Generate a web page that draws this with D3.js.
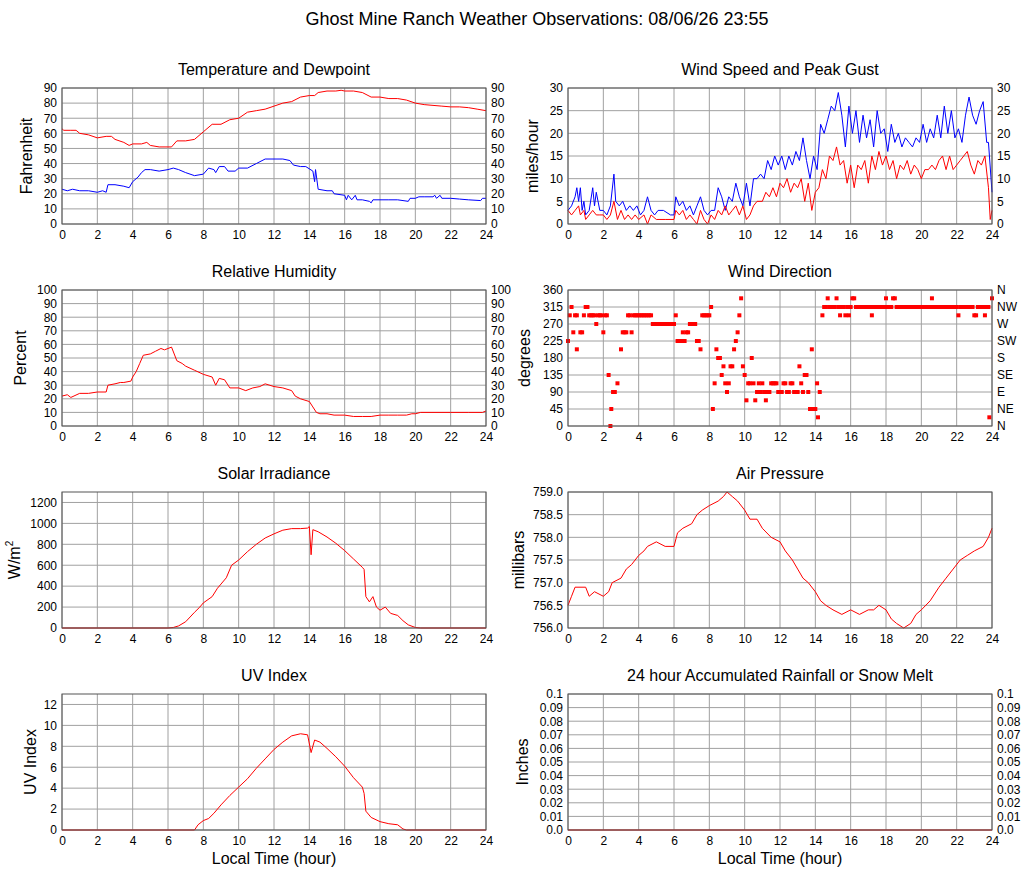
<!DOCTYPE html>
<html>
<head>
<meta charset="utf-8">
<script src="https://cdn.jsdelivr.net/npm/d3@7"></script>
<style>
  body { margin: 0; background: #fff; }
  text { font-family: "Liberation Sans", Arial, sans-serif; fill: #000; }
</style>
</head>
<body>
<svg id="chart" width="1027" height="878"></svg>
<script>
// hour ticks shared by every panel
const hourTicks = d3.range(0, 25, 2);

// Temperature and dewpoint, [hour, F]
const temperature = [[0,63],[0.1,62],[0.5,62],[0.8,62],[1,60],[1.5,59],[2,57],[2.5,58],[2.8,58],[3,56],[3.5,54],[3.8,52],[4,53],[4.5,53],[4.8,54],[5,52],[5.5,51],[6,51],[6.2,51],[6.5,55],[7,55],[7.5,56],[8,61],[8.5,66],[9,66],[9.5,69],[10,70],[10.5,74],[11,75],[11.5,76],[12,78],[12.5,80],[13,81],[13.5,84],[14,85],[14.3,85],[14.5,87],[15,88],[15.5,88],[15.8,88.5],[16,88],[16.5,88],[17,87],[17.5,84],[18,84],[18.5,83],[19,83],[19.5,82],[20,80],[20.5,79],[21,78.5],[21.5,78],[22,77.5],[22.5,77.5],[23,77],[23.5,76],[24,75]];
const dewpoint = [[0,23],[0.3,22],[0.6,23],[1,22],[1.5,22],[2,21],[2.3,22],[2.5,21],[2.6,26],[3,26],[3.5,25],[3.8,24],[4,28],[4.3,31],[4.5,34],[4.7,36],[5,36],[5.5,35],[6,36],[6.3,37],[6.6,36],[7,34],[7.5,32],[8,33],[8.3,37],[8.6,36],[8.7,34],[8.9,38],[9.2,38],[9.4,35],[9.8,35],[10,37],[10.5,37],[11,40],[11.5,43],[12,43],[12.5,43],[12.9,42],[13.1,39],[13.5,38],[13.8,38],[14.2,35],[14.3,28],[14.35,36],[14.5,23],[15,22],[15.3,22],[15.4,20],[16,19],[16.1,16],[16.2,19],[16.4,16],[16.6,19],[16.7,16],[17,16],[17.4,15],[17.5,14],[17.6,16],[18,16],[18.5,16],[19,16],[19.6,15],[19.7,17],[20,17],[20.2,18],[20.5,18],[21,18],[21.1,19],[21.2,17],[21.4,19],[21.5,17],[22,17],[22.5,16.5],[23,16],[23.7,15.5],[23.8,17],[24,17]];

// Relative humidity, [hour, %]
const humidity = [[0,22],[0.3,23],[0.5,21],[1,24],[1.5,24],[2,25],[2.5,25],[2.6,30],[3,31],[3.3,32],[3.5,32],[3.9,33],[4,36],[4.2,40],[4.4,46],[4.6,52],[5,53],[5.3,55],[5.6,57],[5.8,56],[6,57],[6.2,58],[6.5,48],[6.8,46],[7,44],[7.5,41],[8,38],[8.5,36],[8.7,30],[8.9,35],[9.2,34],[9.5,28],[10,28],[10.4,26],[10.8,28],[11.2,29],[11.5,31],[12,29],[12.5,28],[13,26],[13.2,22],[13.5,20],[14,18],[14.2,14],[14.4,10],[14.6,9],[15,9],[15.4,8],[16,8],[16.5,7],[17,7],[17.5,7],[18,8],[18.5,8],[19,8],[19.5,8],[19.8,9],[20,9],[20.3,10],[21,10],[22,10],[23,10],[23.8,10],[24,11]];

// Wind speed and peak gust, [hour, mph]
const windSpeed = [[0,3],[0.2,2],[0.4,3],[0.6,4],[0.7,2],[0.9,3],[1,1],[1.2,2],[1.4,3],[1.6,2],[1.8,2],[2,2],[2.2,1],[2.4,2],[2.6,5],[2.8,1],[3,3],[3.2,1],[3.4,2],[3.6,1],[3.8,2],[4,1],[4.3,2],[4.5,0],[4.7,2],[5,1],[5.5,1],[6,1],[6.1,3],[6.3,2],[6.5,3],[6.7,1],[6.9,2],[7.1,1],[7.3,0],[7.5,3],[7.7,1],[7.9,0],[8.1,2],[8.3,1],[8.5,3],[8.7,2],[8.9,4],[9.1,2],[9.3,3],[9.5,4],[9.7,2],[9.9,4],[10.1,1],[10.3,2],[10.5,4],[10.7,5],[11,5],[11.2,7],[11.4,6],[11.6,8],[11.8,6],[12,9],[12.2,8],[12.4,10],[12.6,7],[12.8,9],[13,8],[13.2,10],[13.4,5],[13.6,9],[13.8,3],[14,7],[14.2,8],[14.4,12],[14.6,10],[14.8,15],[15,14],[15.2,17],[15.4,13],[15.6,14],[15.8,9],[16,13],[16.2,8],[16.4,13],[16.6,12],[16.8,14],[17,9],[17.2,15],[17.4,12],[17.6,16],[17.8,13],[18,15],[18.2,12],[18.4,14],[18.6,10],[18.8,13],[19,12],[19.2,14],[19.4,11],[19.6,13],[19.8,12],[20,10],[20.2,12],[20.4,12],[20.6,13],[20.8,12],[21,14],[21.2,15],[21.4,12],[21.6,15],[21.8,12],[22,13],[22.2,14],[22.4,15],[22.6,16],[22.8,13],[23,11],[23.2,14],[23.4,13],[23.6,15],[23.8,8],[23.9,1],[24,3]];
const windGust = [[0,3],[0.2,4],[0.4,6],[0.5,8],[0.6,5],[0.7,8],[0.8,3],[0.9,5],[1,2],[1.2,3],[1.4,8],[1.5,4],[1.6,7],[1.8,3],[2,3],[2.2,2],[2.4,4],[2.6,11],[2.7,5],[2.9,4],[3.1,5],[3.3,3],[3.5,4],[3.7,3],[3.9,4],[4.1,2],[4.3,3],[4.5,6],[4.7,3],[4.9,2],[5.1,3],[5.4,3],[5.8,2],[6,2],[6.1,6],[6.3,4],[6.5,5],[6.7,3],[6.9,4],[7.1,2],[7.3,4],[7.5,6],[7.7,3],[7.9,2],[8.1,3],[8.3,3],[8.5,8],[8.7,6],[8.9,3],[9.1,6],[9.3,5],[9.5,9],[9.7,6],[9.9,4],[10.1,9],[10.3,4],[10.5,10],[10.7,10],[10.9,11],[11.1,10],[11.3,14],[11.5,12],[11.7,15],[11.9,13],[12.1,15],[12.3,12],[12.5,15],[12.7,13],[12.9,16],[13.1,14],[13.3,19],[13.5,14],[13.7,10],[13.9,15],[14.1,12],[14.3,22],[14.5,20],[14.7,23],[14.9,26],[15.1,25],[15.3,29],[15.5,24],[15.7,17],[15.9,26],[16.1,20],[16.3,25],[16.5,18],[16.7,24],[16.9,19],[17.1,23],[17.3,17],[17.5,25],[17.7,20],[17.9,21],[18.1,16],[18.3,22],[18.5,18],[18.7,20],[18.9,17],[19.1,19],[19.3,18],[19.5,17],[19.7,19],[19.9,18],[20.1,22],[20.3,18],[20.5,21],[20.7,19],[20.9,24],[21.1,19],[21.3,26],[21.5,20],[21.7,25],[21.9,19],[22.1,21],[22.3,18],[22.5,24],[22.7,28],[22.9,24],[23.1,22],[23.3,25],[23.5,27],[23.7,18],[23.8,18],[24,7]];

// Wind direction observations, [hour, degrees]
const windDirection = [[0,225],[0.1,293],[0.2,315],[0.3,248],[0.4,293],[0.5,293],[0.5,203],[0.7,248],[0.8,248],[0.9,293],[1,315],[1.1,315],[1.2,293],[1.3,293],[1.4,293],[1.5,293],[1.6,270],[1.7,293],[1.8,293],[1.9,293],[2.0,248],[2.1,293],[2.2,293],[2.3,135],[2.4,0],[2.45,45],[2.55,90],[2.65,90],[2.8,113],[3.0,203],[3.1,248],[3.2,248],[3.3,248],[3.4,293],[3.5,293],[3.6,248],[3.7,293],[3.8,293],[3.9,293],[4.0,293],[4.1,293],[4.2,293],[4.3,293],[4.4,293],[4.5,293],[4.6,293],[4.7,293],[4.8,270],[4.9,270],[5.0,270],[5.1,270],[5.2,270],[5.3,270],[5.4,270],[5.5,270],[5.6,270],[5.7,270],[5.8,270],[5.9,270],[6.0,270],[6.1,293],[6.2,225],[6.3,225],[6.4,225],[6.5,248],[6.6,225],[6.7,248],[6.8,248],[6.9,270],[7.0,270],[7.1,270],[7.2,270],[7.3,225],[7.4,225],[7.5,203],[7.6,293],[7.7,293],[7.8,293],[7.9,293],[8.0,293],[8.1,315],[8.2,45],[8.3,113],[8.4,203],[8.5,180],[8.6,180],[8.7,135],[8.8,158],[8.9,113],[9.0,90],[9.1,113],[9.2,158],[9.3,158],[9.4,203],[9.5,225],[9.6,248],[9.7,293],[9.8,338],[9.9,158],[10.0,135],[10.1,68],[10.2,113],[10.3,113],[10.4,180],[10.5,113],[10.6,68],[10.7,90],[10.8,113],[10.9,90],[11.0,113],[11.1,90],[11.2,68],[11.3,90],[11.4,90],[11.5,113],[11.6,113],[11.7,113],[11.8,113],[11.9,90],[12.0,90],[12.1,90],[12.2,113],[12.3,113],[12.4,90],[12.5,90],[12.6,113],[12.7,113],[12.8,90],[12.9,90],[13.0,90],[13.1,158],[13.2,113],[13.3,90],[13.4,135],[13.5,135],[13.6,90],[13.7,45],[13.8,203],[13.85,45],[13.9,45],[14.0,45],[14.1,113],[14.15,23],[14.25,90],[14.4,293],[14.5,315],[14.6,315],[14.7,338],[14.8,315],[14.9,315],[15.0,315],[15.1,315],[15.2,338],[15.3,315],[15.4,293],[15.5,315],[15.6,315],[15.7,293],[15.8,315],[15.9,293],[16.0,315],[16.1,338],[16.2,338],[16.3,315],[16.4,315],[16.5,315],[16.6,315],[16.7,315],[16.8,315],[16.9,315],[17.0,315],[17.1,315],[17.2,293],[17.3,315],[17.4,315],[17.5,315],[17.6,315],[17.7,315],[17.8,315],[17.9,315],[18.0,338],[18.1,315],[18.2,315],[18.3,315],[18.4,338],[18.5,338],[18.6,315],[18.7,315],[18.8,315],[18.9,315],[19.0,315],[19.1,315],[19.2,315],[19.3,315],[19.4,315],[19.5,315],[19.6,315],[19.7,315],[19.8,315],[19.9,315],[20.0,315],[20.1,315],[20.2,315],[20.3,315],[20.4,315],[20.5,315],[20.6,338],[20.7,315],[20.8,315],[20.9,315],[21.0,315],[21.1,315],[21.2,315],[21.3,315],[21.4,315],[21.5,315],[21.6,315],[21.7,315],[21.8,315],[21.9,315],[22.0,315],[22.1,293],[22.2,315],[22.3,315],[22.4,315],[22.5,315],[22.6,315],[22.7,315],[22.8,315],[22.9,315],[23.0,293],[23.1,293],[23.2,315],[23.3,315],[23.4,315],[23.5,315],[23.6,293],[23.7,315],[23.8,315],[23.85,23],[24,338]];
const directionLabels = ["N", "NE", "E", "SE", "S", "SW", "W", "NW", "N"];

// Solar irradiance, [hour, W/m2]
const solar = [[0,0],[6,0],[6.3,5],[6.6,20],[7,60],[7.5,150],[7.8,200],[8,240],[8.5,300],[8.8,380],[9,420],[9.3,480],[9.6,600],[10,650],[10.5,730],[11,800],[11.5,860],[12,900],[12.5,935],[13,950],[13.5,950],[13.9,955],[14,970],[14.1,700],[14.2,940],[14.5,920],[15,870],[15.5,810],[16,740],[16.5,660],[17,580],[17.1,560],[17.2,300],[17.4,250],[17.6,300],[17.8,200],[18,170],[18.3,200],[18.6,140],[19,120],[19.3,70],[19.6,30],[20,5],[20.3,0],[24,0]];

// Air pressure, [hour, millibars]
const pressure = [[0,756.5],[0.2,756.7],[0.4,756.9],[1,756.9],[1.2,756.7],[1.5,756.8],[2,756.7],[2.3,756.8],[2.5,757.0],[3,757.1],[3.3,757.3],[3.6,757.4],[4,757.6],[4.3,757.7],[4.5,757.8],[5,757.9],[5.5,757.8],[6,757.8],[6.2,758.1],[6.5,758.2],[7,758.3],[7.3,758.5],[7.6,758.6],[8,758.7],[8.5,758.8],[8.8,758.9],[9,759.0],[9.3,758.9],[9.6,758.8],[10,758.6],[10.3,758.4],[10.7,758.4],[11,758.2],[11.5,758.0],[12,757.9],[12.3,757.7],[12.7,757.5],[13,757.3],[13.3,757.1],[13.6,757.0],[14,756.8],[14.3,756.6],[14.6,756.5],[15,756.4],[15.5,756.3],[16,756.4],[16.5,756.3],[17,756.4],[17.3,756.4],[17.6,756.5],[18,756.4],[18.3,756.2],[18.6,756.1],[19,756.0],[19.4,756.1],[19.7,756.3],[20,756.4],[20.5,756.6],[21,756.9],[21.4,757.1],[21.8,757.3],[22.2,757.5],[22.6,757.6],[23,757.7],[23.5,757.8],[23.8,758.0],[24,758.2]];

// UV index, [hour, index]
const uvIndex = [[0,0],[7.5,0],[7.7,0.5],[8,0.9],[8.3,1.1],[8.6,1.6],[9,2.4],[9.5,3.3],[10,4.1],[10.5,4.9],[11,5.9],[11.5,6.8],[12,7.7],[12.5,8.4],[13,9.0],[13.5,9.2],[13.9,9.1],[14.1,7.4],[14.3,8.6],[14.6,8.4],[15,7.8],[15.5,7.0],[16,6.1],[16.5,5.0],[17,4.1],[17.1,3.5],[17.2,1.8],[17.5,1.2],[18,0.8],[18.5,0.6],[19,0.5],[19.3,0.1],[19.5,0],[24,0]];

// Rainfall, [hour, inches]
const rainfall = [[0,0],[24,0]];
const rainTicks = [0, 0.01, 0.02, 0.03, 0.04, 0.05, 0.06, 0.07, 0.08, 0.09, 0.1];
const rainLabel = d => d === 0 ? "0.0" : String(d);

const svg = d3.select("#chart");

svg.append("text")
    .attr("x", 537).attr("y", 25)
    .attr("text-anchor", "middle")
    .attr("font-size", 18)
    .text("Ghost Mine Ranch Weather Observations: 08/06/26 23:55");

const colLeft = [62, 568];
const rowTop = [88, 290, 492, 694];
const plotW = 424, plotH = 136;

function panel(cfg) {
    const x0 = colLeft[cfg.col], y0 = rowTop[cfg.row];
    const g = svg.append("g").attr("transform", `translate(${x0},${y0})`);
    const x = d3.scaleLinear().domain([0, 24]).range([0, plotW]);
    const y = d3.scaleLinear().domain(cfg.domain).range([plotH, 0]);

    g.append("text")
        .attr("x", plotW / 2).attr("y", -13)
        .attr("text-anchor", "middle")
        .attr("font-size", 16)
        .text(cfg.title);

    // grid
    g.selectAll(".vg").data(hourTicks).join("line")
        .attr("x1", d => x(d)).attr("x2", d => x(d))
        .attr("y1", 0).attr("y2", plotH)
        .attr("stroke", "#a0a0a0").attr("stroke-width", 1);
    g.selectAll(".hg").data(cfg.ticks).join("line")
        .attr("x1", 0).attr("x2", plotW)
        .attr("y1", d => y(d)).attr("y2", d => y(d))
        .attr("stroke", "#a0a0a0").attr("stroke-width", 1);

    // axes
    const fmt = cfg.format || (d => d);
    const left = g.append("g").call(d3.axisLeft(y).tickValues(cfg.ticks).tickFormat(fmt).tickSize(0).tickPadding(5));
    const bottom = g.append("g").attr("transform", `translate(0,${plotH})`)
        .call(d3.axisBottom(x).tickValues(hourTicks).tickSize(0).tickPadding(6));
    const axes = [left, bottom];
    if (cfg.right) {
        const rf = cfg.rightFormat || fmt;
        axes.push(g.append("g").attr("transform", `translate(${plotW},0)`)
            .call(d3.axisRight(y).tickValues(cfg.ticks).tickFormat(rf).tickSize(0).tickPadding(5)));
    }
    axes.forEach(a => {
        a.select(".domain").remove();
        a.selectAll("text").attr("font-size", 12).attr("font-family", "Liberation Sans, Arial, sans-serif");
    });

    // y label
    const yl = g.append("text")
        .attr("transform", `translate(${-cfg.labelOffset},${plotH / 2}) rotate(-90)`)
        .attr("text-anchor", "middle")
        .attr("font-size", 16);
    if (cfg.ylabelSup) {
        yl.append("tspan").text(cfg.ylabel);
        yl.append("tspan").attr("font-size", 10).attr("dy", -7).text(cfg.ylabelSup);
    } else {
        yl.text(cfg.ylabel);
    }

    const line = d3.line().x(d => x(d[0])).y(d => y(d[1]));
    (cfg.lines || []).forEach(s => {
        g.append("path").datum(s.data)
            .attr("fill", "none").attr("stroke", s.color).attr("stroke-width", 1)
            .attr("d", line);
    });
    if (cfg.points) {
        g.selectAll(".pt").data(cfg.points).join("rect")
            .attr("x", d => x(d[0]) - 2).attr("y", d => y(d[1]) - 2)
            .attr("width", 4).attr("height", 4)
            .attr("fill", "#ff0000");
    }

    g.append("rect")
        .attr("width", plotW).attr("height", plotH)
        .attr("fill", "none").attr("stroke", "#555").attr("stroke-width", 1);

    if (cfg.xlabel) {
        g.append("text")
            .attr("x", plotW / 2).attr("y", plotH + 34)
            .attr("text-anchor", "middle")
            .attr("font-size", 16)
            .text("Local Time (hour)");
    }
}

panel({ col: 0, row: 0, title: "Temperature and Dewpoint", domain: [0, 90], ticks: d3.range(0, 91, 10),
    right: true, ylabel: "Fahrenheit", labelOffset: 30,
    lines: [{ data: temperature, color: "#ff0000" }, { data: dewpoint, color: "#0000ff" }] });

panel({ col: 1, row: 0, title: "Wind Speed and Peak Gust", domain: [0, 30], ticks: d3.range(0, 31, 5),
    right: true, ylabel: "miles/hour", labelOffset: 30,
    lines: [{ data: windGust, color: "#0000ff" }, { data: windSpeed, color: "#ff0000" }] });

panel({ col: 0, row: 1, title: "Relative Humidity", domain: [0, 100], ticks: d3.range(0, 101, 10),
    right: true, ylabel: "Percent", labelOffset: 36,
    lines: [{ data: humidity, color: "#ff0000" }] });

panel({ col: 1, row: 1, title: "Wind Direction", domain: [0, 360], ticks: d3.range(0, 361, 45),
    right: true, rightFormat: (d, i) => directionLabels[i], ylabel: "degrees", labelOffset: 38,
    points: windDirection });

panel({ col: 0, row: 2, title: "Solar Irradiance", domain: [0, 1300], ticks: d3.range(0, 1201, 200),
    ylabel: "W/m", ylabelSup: "2", labelOffset: 42,
    lines: [{ data: solar, color: "#ff0000" }] });

panel({ col: 1, row: 2, title: "Air Pressure", domain: [756, 759], ticks: d3.range(756, 759.01, 0.5),
    format: d3.format(".1f"), ylabel: "millibars", labelOffset: 44,
    lines: [{ data: pressure, color: "#ff0000" }] });

panel({ col: 0, row: 3, title: "UV Index", domain: [0, 13], ticks: d3.range(0, 13, 2),
    ylabel: "UV Index", labelOffset: 26, xlabel: true,
    lines: [{ data: uvIndex, color: "#ff0000" }] });

panel({ col: 1, row: 3, title: "24 hour Accumulated Rainfall or Snow Melt", domain: [0, 0.1], ticks: rainTicks,
    format: rainLabel, right: true, ylabel: "Inches", labelOffset: 40, xlabel: true,
    lines: [{ data: rainfall, color: "#ff0000" }] });
</script>
</body>
</html>
